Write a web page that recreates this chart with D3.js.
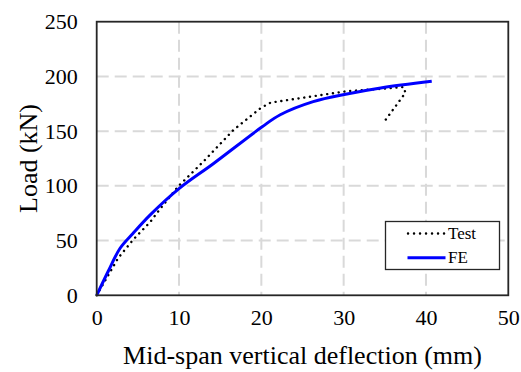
<!DOCTYPE html>
<html><head><meta charset="utf-8">
<script src="https://cdn.jsdelivr.net/npm/d3@7"></script>
<style>html,body{margin:0;padding:0;background:#fff}svg{display:block}svg text{font-family:'Liberation Serif','Times New Roman',serif !important}</style>
</head><body>
<script>
const xTicks = [0, 10, 20, 30, 40, 50];
const yTicks = [0, 50, 100, 150, 200, 250];
const testX = [0, 2.6, 4.45, 6.5, 7.6, 9.9, 13.0, 16.6, 19.9, 21.1, 25.5, 30.4, 34.5, 37.3, 37.5, 34.9];
const testY = [0, 34, 51, 67, 78, 99.5, 122.5, 151, 171, 176, 181, 186.5, 188.6, 190.3, 185, 158.4];
const feX = [0, 1.4, 2.84, 4.4, 6.5, 10, 14.2, 20.1, 22.3, 26.3, 30.4, 34.5, 40.7];
const feY = [0, 22, 43, 56.5, 73.5, 97.5, 120.5, 154, 165, 177, 184, 189.5, 195.5];
const seriesNames = ["Test", "FE"];
const xTitle = "Mid-span vertical deflection (mm)";
const yTitle = "Load (kN)";

const W = 521, H = 372;
const L = 96.7, R = 508.3, T = 21.7, B = 295.3;
const svg = d3.select("body").append("svg").attr("width", W).attr("height", H)
  .style("font-family", "'Liberation Serif','Times New Roman',serif");
svg.append("rect").attr("width", W).attr("height", H).attr("fill", "#fff");

const x = d3.scaleLinear().domain([0, 50]).range([L, R]);
const y = d3.scaleLinear().domain([0, 250]).range([B, T]);

// grid
const grid = svg.append("g").attr("stroke", "#d9d9d9").attr("stroke-width", 2).attr("stroke-dasharray", "12,6");
grid.selectAll("line.gx").data(xTicks.slice(1, -1)).join("line")
  .attr("x1", d => x(d)).attr("x2", d => x(d)).attr("y1", T).attr("y2", B);
grid.selectAll("line.gy").data(yTicks.slice(1, -1)).join("line")
  .attr("y1", d => y(d)).attr("y2", d => y(d)).attr("x1", L).attr("x2", R);

// axes labels via d3 axes
const xAxis = svg.append("g").attr("transform", `translate(0,${B})`)
  .call(d3.axisBottom(x).tickValues(xTicks).tickSize(0).tickPadding(14));
xAxis.attr("font-family", null).attr("font-size", null);
xAxis.select(".domain").remove();
xAxis.selectAll("text").style("font-size", "22px").attr("fill", "#000").attr("dy", "0.71em");
const yAxis = svg.append("g").attr("transform", `translate(${L},0)`)
  .call(d3.axisLeft(y).tickValues(yTicks).tickSize(0).tickPadding(19));
yAxis.attr("font-family", null).attr("font-size", null);
yAxis.select(".domain").remove();
yAxis.selectAll("text").style("font-size", "22px").attr("fill", "#000");

// series
const lineGen = d3.line().x(d => x(d[0])).y(d => y(d[1]));
const testData = testX.map((v, i) => [v, testY[i]]);
const feData = feX.map((v, i) => [v, feY[i]]);
svg.append("path").datum(testData).attr("d", lineGen).attr("fill", "none")
  .attr("stroke", "#000").attr("stroke-width", 2.4).attr("stroke-linecap", "round")
  .attr("stroke-dasharray", "0.1,5.7");
svg.append("path").datum(feData).attr("d", lineGen.curve(d3.curveCatmullRom)).attr("fill", "none")
  .attr("stroke", "#0000ff").attr("stroke-width", 3).attr("stroke-linejoin", "round");

// frame
svg.append("rect").attr("x", L).attr("y", T).attr("width", R - L).attr("height", B - T)
  .attr("fill", "none").attr("stroke", "#262626").attr("stroke-width", 1.8);

// legend
const lg = svg.append("g");
lg.append("rect").attr("x", 385.5).attr("y", 221.5).attr("width", 114).attr("height", 48)
  .attr("fill", "#fff").attr("stroke", "#262626").attr("stroke-width", 1.3);
lg.append("line").attr("x1", 408).attr("x2", 445).attr("y1", 233.5).attr("y2", 233.5)
  .attr("stroke", "#000").attr("stroke-width", 2.4).attr("stroke-linecap", "round").attr("stroke-dasharray", "0.1,5.9");
lg.append("line").attr("x1", 407.5).attr("x2", 445.5).attr("y1", 257.7).attr("y2", 257.7)
  .attr("stroke", "#0000ff").attr("stroke-width", 3);
lg.selectAll("text").data(seriesNames).join("text")
  .attr("x", 448).attr("y", (d, i) => 238.5 + i * 24.2)
  .attr("font-size", 17).attr("fill", "#000").text(d => d);

// titles
svg.append("text").attr("x", (L + R) / 2).attr("y", 364).attr("text-anchor", "middle")
  .attr("font-size", 26).attr("fill", "#000").text(xTitle);
svg.append("text").attr("transform", `translate(37,${(T + B) / 2}) rotate(-90)`).attr("text-anchor", "middle")
  .attr("font-size", 26).attr("fill", "#000").text(yTitle);
</script>
</body></html>
